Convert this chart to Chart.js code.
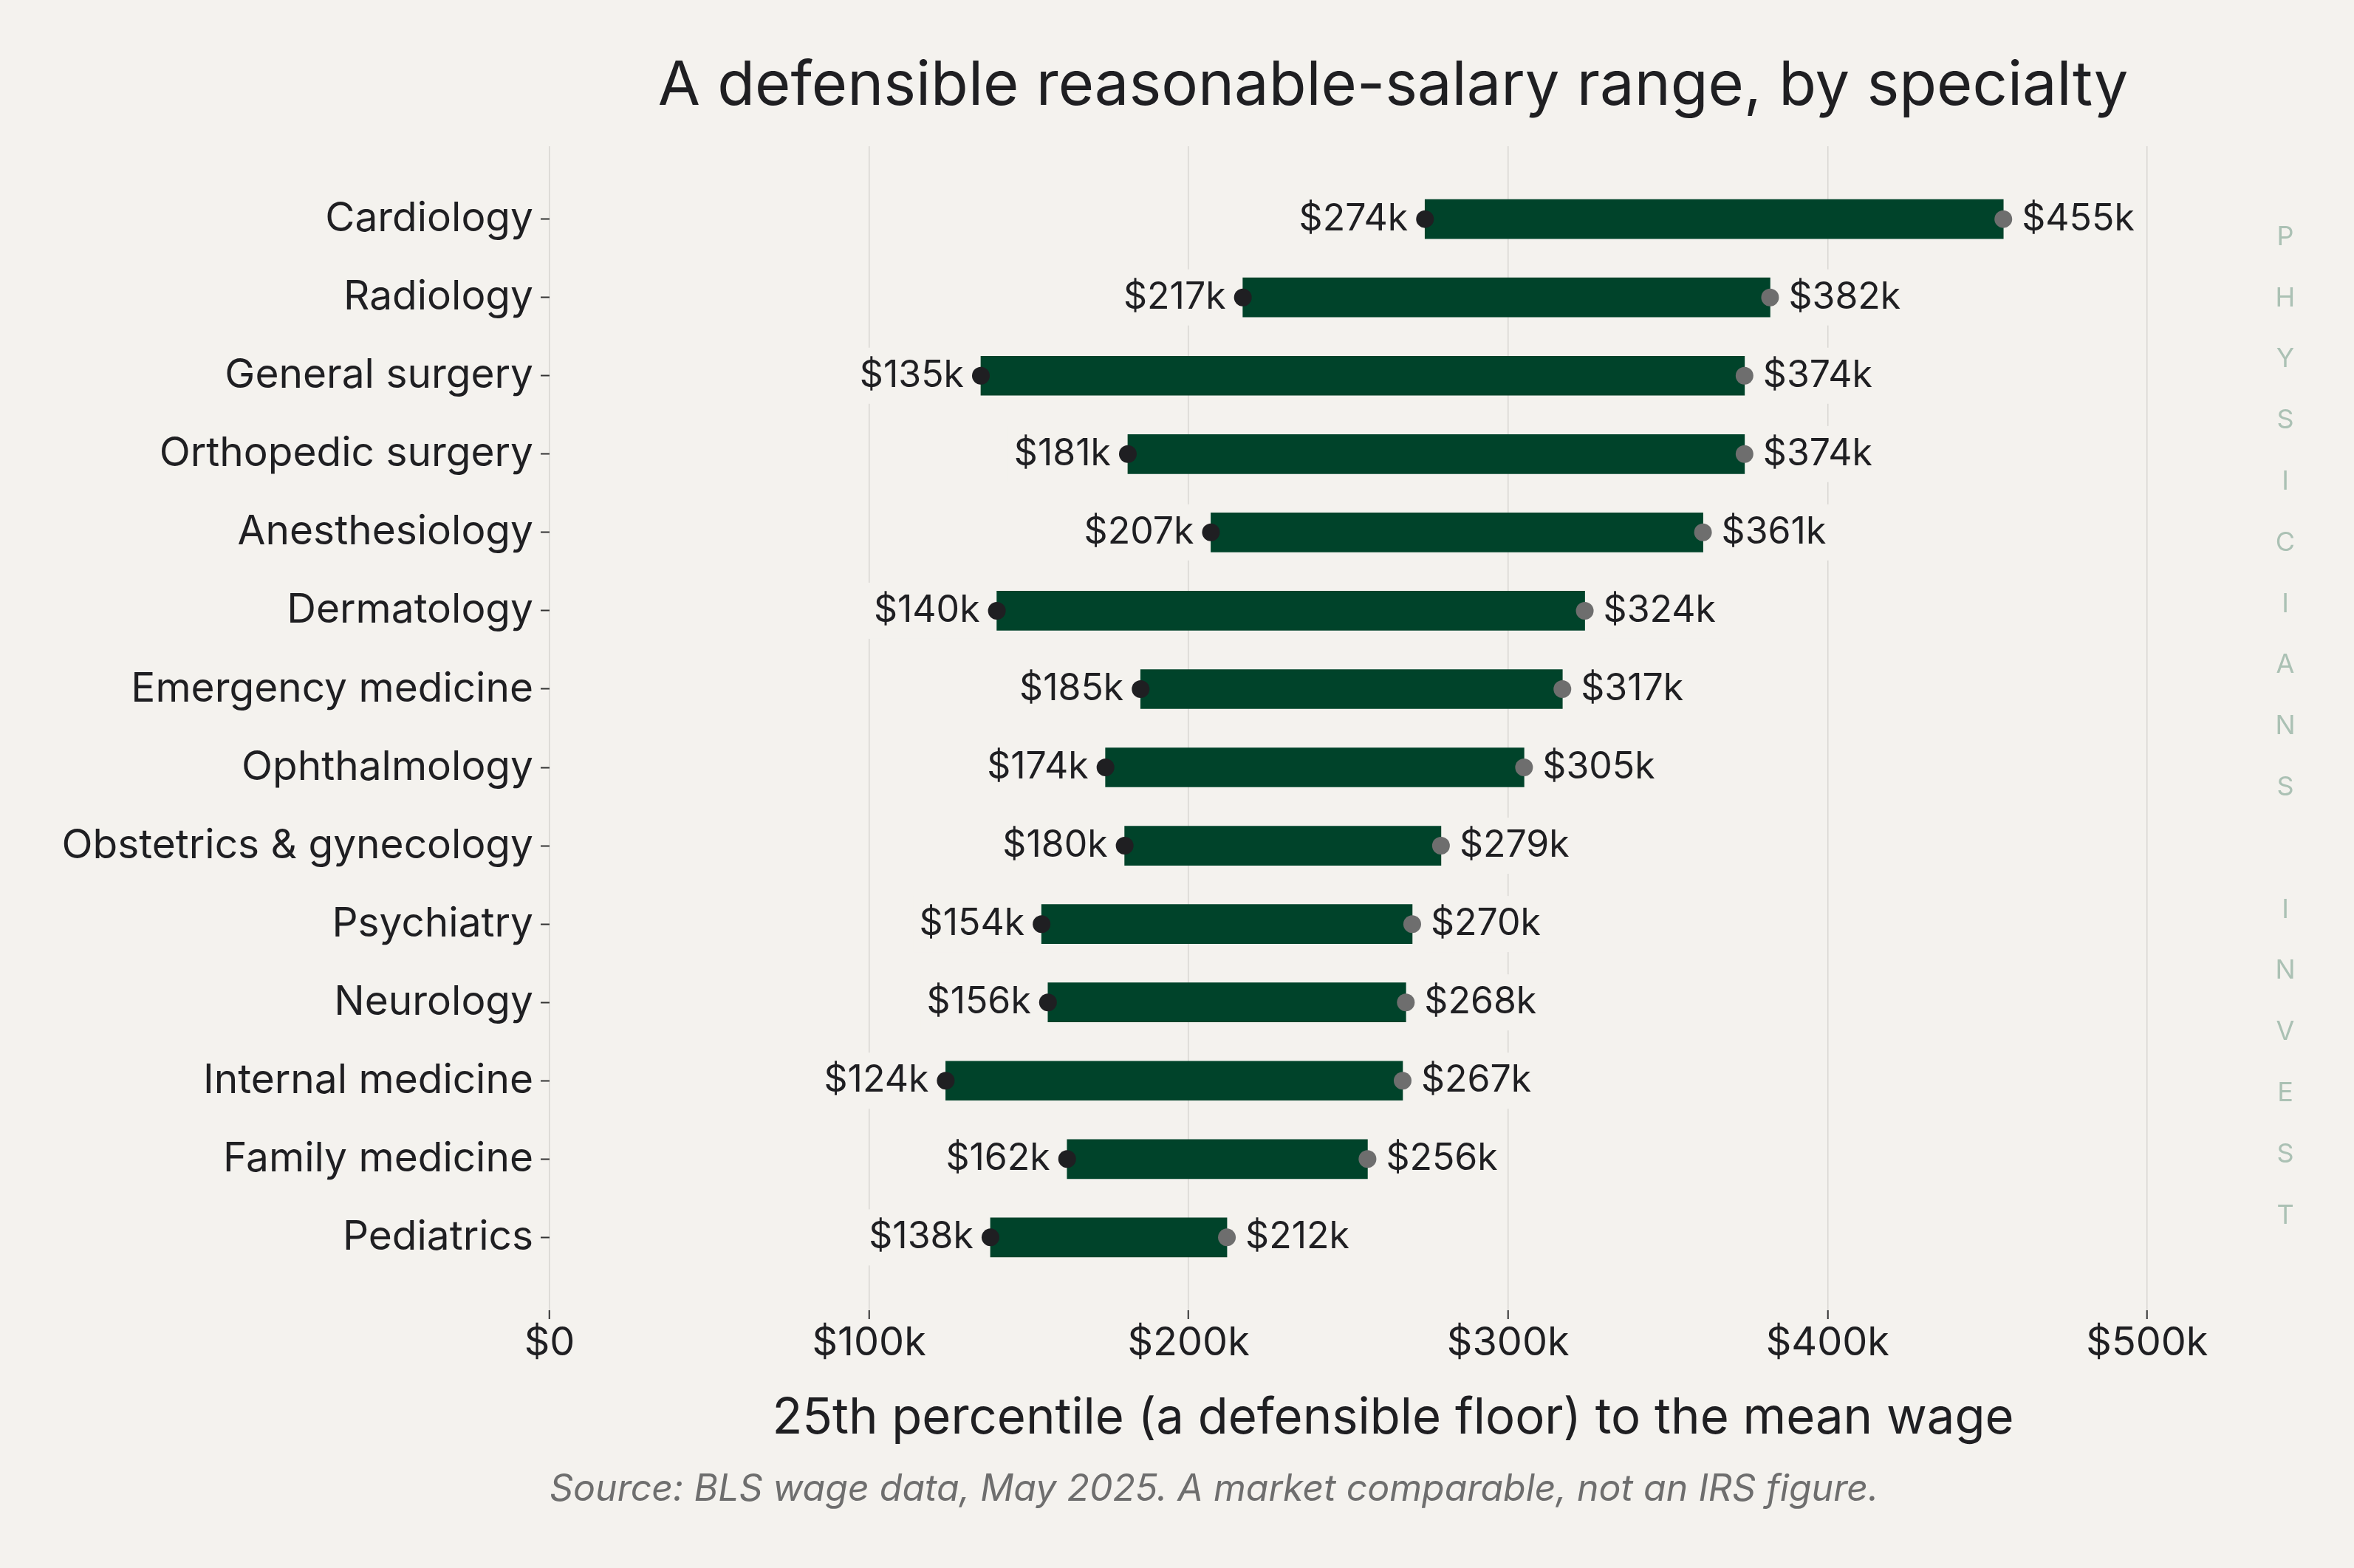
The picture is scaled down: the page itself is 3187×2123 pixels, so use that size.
<!DOCTYPE html>
<html>
<head>
<meta charset="utf-8">
<script src="https://cdn.jsdelivr.net/npm/chart.js@4.4.1/dist/chart.umd.min.js"></script>
<style>
html, body { margin: 0; padding: 0; background: #f4f2ee; }
#wrap { width: 3187px; height: 2123px; }
</style>
</head>
<body>
<div id="wrap"><canvas id="rangeChart" width="3187" height="2123"></canvas></div>
<script>
// values in $ thousands
var specialties = ["Cardiology", "Radiology", "General surgery", "Orthopedic surgery", "Anesthesiology",
    "Dermatology", "Emergency medicine", "Ophthalmology", "Obstetrics & gynecology", "Psychiatry",
    "Neurology", "Internal medicine", "Family medicine", "Pediatrics"];
var floorWage = [274, 217, 135, 181, 207, 140, 185, 174, 180, 154, 156, 124, 162, 138];   // 25th percentile
var meanWage = [455, 382, 374, 374, 361, 324, 317, 305, 279, 270, 268, 267, 256, 212];     // mean
var xTicks = [0, 100, 200, 300, 400, 500];
var sideMark = "PHYSICIANS INVEST";

var BG = "#f4f2ee", INK = "#1f1f22", GREEN = "#00432a";
var FONT = "Inter, 'Noto Sans', sans-serif";

function money(v) { return v == 0 ? "$0" : "$" + v + "k" }

var bgPlugin = {
    id: "bg",
    beforeDraw: function (chart) {
        var ctx = chart.ctx;
        ctx.save();
        ctx.fillStyle = BG;
        ctx.fillRect(0, 0, chart.width, chart.height);
        ctx.restore();
    }
}

// value labels next to the dots, title, source line and side text
var textPlugin = {
    id: "texts",
    afterDatasetsDraw: function (chart) {
        var ctx = chart.ctx, xs = chart.scales.x, ys = chart.scales.y;
        ctx.save();
        ctx.font = "50px " + FONT;
        ctx.textBaseline = "middle";
        specialties.forEach(function (name, i) {
            var y = ys.getPixelForValue(i);
            var x0 = xs.getPixelForValue(floorWage[i]);
            var x1 = xs.getPixelForValue(meanWage[i]);
            var t0 = money(floorWage[i]), t1 = money(meanWage[i]);
            var w0 = ctx.measureText(t0).width, w1 = ctx.measureText(t1).width;
            ctx.fillStyle = BG;
            ctx.fillRect(x0 - 23 - w0 - 8, y - 38, w0 + 14, 76);
            ctx.fillRect(x1 + 19, y - 38, w1 + 14, 76);
            ctx.fillStyle = INK;
            ctx.textAlign = "right";
            ctx.fillText(t0, x0 - 23, y);
            ctx.textAlign = "left";
            ctx.fillText(t1, x1 + 25, y);
        });
        ctx.restore();
    },
    afterDraw: function (chart) {
        var ctx = chart.ctx, area = chart.chartArea;
        var cx = (area.left + area.right) / 2;
        ctx.save();
        ctx.fillStyle = INK;
        ctx.font = "83px " + FONT;
        ctx.textAlign = "center";
        ctx.textBaseline = "middle";
        ctx.fillText("A defensible reasonable-salary range, by specialty", cx, 117);

        ctx.fillStyle = "#6e6e6e";
        ctx.font = "italic 50px " + FONT;
        ctx.textAlign = "left";
        ctx.fillText("Source: BLS wage data, May 2025. A market comparable, not an IRS figure.", area.left, 2017);

        ctx.fillStyle = "#abc1b4";
        ctx.font = "36px " + FONT;
        ctx.textAlign = "center";
        sideMark.split("").forEach(function (ch, i) {
            if (ch != " ") ctx.fillText(ch, 3094, 321 + i * 82.8);
        });
        ctx.restore();
    }
}

var barData = specialties.map(function (s, i) { return { x: [floorWage[i], meanWage[i]], y: i } });
var floorDots = specialties.map(function (s, i) { return { x: floorWage[i], y: i } });
var meanDots = specialties.map(function (s, i) { return { x: meanWage[i], y: i } });

var chart = new Chart(document.getElementById("rangeChart").getContext("2d"), {
    type: "bar",
    data: {
        datasets: [
            {
                label: "Range",
                indexAxis: "y",
                data: barData,
                backgroundColor: GREEN,
                borderWidth: 0,
                barThickness: 53,
                order: 3,
            },
            {
                type: "scatter",
                label: "25th percentile",
                data: floorDots,
                backgroundColor: INK,
                borderWidth: 0,
                pointRadius: 12,
                order: 1,
            },
            {
                type: "scatter",
                label: "Mean",
                data: meanDots,
                backgroundColor: "#6e6e6e",
                borderWidth: 0,
                pointRadius: 12,
                order: 2,
            },
        ],
    },
    options: {
        responsive: false,
        devicePixelRatio: 1,
        animation: false,
        layout: { padding: { top: 198, right: 159, bottom: 150, left: 0 } },
        plugins: {
            legend: { display: false },
            tooltip: { enabled: false },
        },
        scales: {
            x: {
                type: "linear",
                offset: false,
                min: 0,
                max: 528,
                afterBuildTicks: function (axis) { axis.ticks = xTicks.map(function (v) { return { value: v } }) },
                afterFit: function (axis) { axis.height = 2123 - 1774 - 150 },
                border: { display: false },
                grid: { offset: false, color: "#d8d6d2", lineWidth: 1.5, tickLength: 12, tickColor: "#333333", tickWidth: 2 },
                ticks: {
                    color: INK,
                    font: { family: FONT, size: 54 },
                    padding: 0,
                    callback: function (v) { return money(v) },
                },
                title: {
                    display: true,
                    text: "25th percentile (a defensible floor) to the mean wage",
                    color: INK,
                    font: { family: FONT, size: 67 },
                    padding: { top: 0, bottom: 12 },
                },
            },
            y: {
                type: "linear",
                offset: false,
                reverse: true,
                min: -0.93,
                max: 13.93,
                afterBuildTicks: function (axis) { axis.ticks = specialties.map(function (s, i) { return { value: i } }) },
                afterFit: function (axis) { axis.width = 744 },
                border: { display: false },
                grid: { offset: false, drawOnChartArea: false, tickLength: 12, tickColor: "#333333", tickWidth: 2 },
                ticks: {
                    color: INK,
                    font: { family: FONT, size: 55 },
                    padding: 10,
                    callback: function (v) { return specialties[v] },
                },
            },
        },
    },
    plugins: [bgPlugin, textPlugin],
})
</script>
</body>
</html>
